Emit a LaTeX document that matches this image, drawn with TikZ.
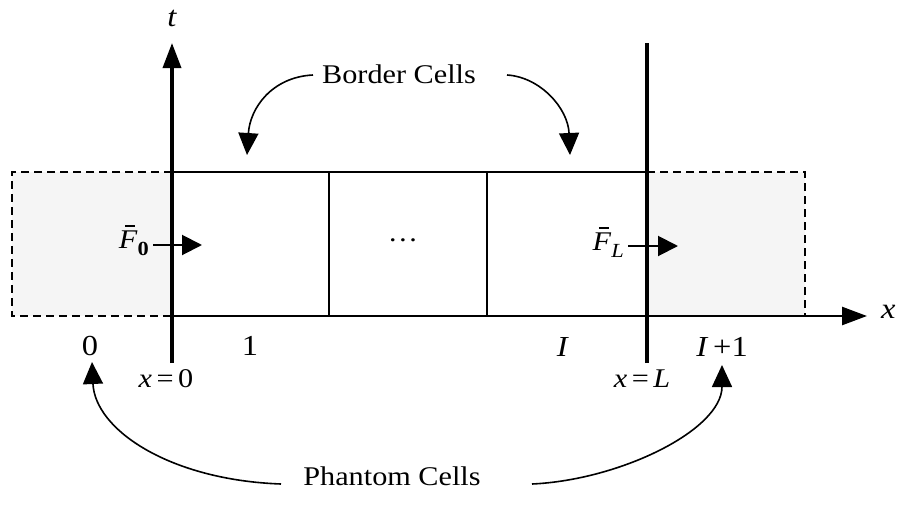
\documentclass[tikz,border=0pt]{standalone}
\usepackage{fontspec}
\setmainfont[FakeStretch=1.12]{Liberation Serif}
\usetikzlibrary{arrows.meta}
\newcommand{\barF}{\textit{F}\llap{\rule[21.5pt]{10pt}{1.6pt}\kern2.5pt}}
\begin{document}
\begin{tikzpicture}[x=1pt,y=-1pt,
  lbl/.style={inner sep=0pt,font=\fontsize{27}{32}\selectfont},
  axis/.style={line width=3.5pt},
  cell/.style={line width=2pt},
  ghost/.style={line width=2pt,dash pattern=on 8pt off 5pt},
  bigtip/.style={-{Triangle[length=25pt,width=18pt]}},
  smalltip/.style={-{Triangle[length=20pt,width=20pt]}},
  curvetip/.style={line width=1.6pt,-{Triangle[length=22pt,width=20pt]}}]
\useasboundingbox (0,0) rectangle (905,506);
% ghost regions
\fill[black!4] (12,172) rectangle (172,316);
\fill[black!4] (647,172) rectangle (805,316);
% coordinates
\coordinate (gl1) at (172,172); \coordinate (gl2) at (12,172);
\coordinate (gl3) at (12,316);  \coordinate (gl4) at (172,316);
\coordinate (gr1) at (647,172); \coordinate (gr2) at (805,172);
\coordinate (gr3) at (805,316);
\draw[ghost] (gl1) -- (gl2) -- (gl3) -- (gl4);
\draw[ghost] (gr1) -- (gr2) -- (gr3);
% cells
\coordinate (c1t) at (329,172); \coordinate (c1b) at (329,316);
\coordinate (c2t) at (487,172); \coordinate (c2b) at (487,316);
\draw[cell] (gl1) -- (gr1);
\draw[cell] (c1t) -- (c1b);
\draw[cell] (c2t) -- (c2b);
% axes
\coordinate (tb) at (172,363); \coordinate (tt) at (172,43);
\coordinate (rb) at (647,363); \coordinate (rt) at (647,43);
\coordinate (xe) at (867,316);
\draw[axis,bigtip] (tb) -- (tt);
\draw[axis] (rb) -- (rt);
\draw[line width=2.5pt,bigtip] (gl4) -- (xe);
\node[lbl,anchor=base,font=\fontsize{29}{32}\selectfont\itshape] (tlab) at (172,27) {t};
\node[lbl,anchor=base west,font=\fontsize{29}{32}\selectfont\itshape] (xlab) at (881,318) {x};
% dots
\node[lbl] (dots) at (403,240) {…};
% fluxes
\node[lbl,anchor=base east] (F0) at (149,248) {\barF\raisebox{-7pt}{\fontsize{20}{22}\selectfont\bfseries 0}};
\coordinate (f0a) at (153,245); \coordinate (f0b) at (202,245);
\draw[cell,smalltip] (f0a) -- (f0b);
\node[lbl,anchor=base east] (FL) at (624,250) {\barF\raisebox{-7pt}{\fontsize{20}{22}\selectfont\itshape L}};
\coordinate (fla) at (628,246); \coordinate (flb) at (678,246);
\draw[cell,smalltip] (fla) -- (flb);
% cell labels
\node[lbl,anchor=base,font=\fontsize{29}{32}\selectfont] (n0) at (90,355) {0};
\node[lbl,anchor=base,font=\fontsize{29}{32}\selectfont] (n1) at (250,355) {1};
\node[lbl,anchor=base,font=\fontsize{29}{32}\selectfont] (nI) at (563,356) {\textit{I}};
\node[lbl,anchor=base,font=\fontsize{29}{32}\selectfont] (nI1) at (722,356) {\textit{I}\,+1};
\node[lbl,anchor=base] (x0) at (166,387) {\textit{x}\,=\,0};
\node[lbl,anchor=base] (xL) at (642,387) {\textit{x}\,=\,\textit{L}};
% border cells
\node[lbl,anchor=base] (bc) at (399,83) {Border Cells};
\coordinate (bcl) at (313,75); \coordinate (bcla) at (247,155);
\coordinate (bcr) at (507,75); \coordinate (bcra) at (570,155);
\draw[curvetip] (bcl) .. controls (272,77) and (250,108) .. (bcla);
\draw[curvetip] (bcr) .. controls (540,77) and (568,108) .. (bcra);
% phantom cells
\node[lbl,anchor=base] (pc) at (392,485) {Phantom Cells};
\coordinate (pcl) at (281,484); \coordinate (pcla) at (92,362);
\coordinate (pcr) at (532,484); \coordinate (pcra) at (722,365);
\draw[curvetip] (pcl) .. controls (170,480) and (95,430) .. (pcla);
\draw[curvetip] (pcr) .. controls (620,480) and (722,430) .. (pcra);
\end{tikzpicture}
\end{document}
